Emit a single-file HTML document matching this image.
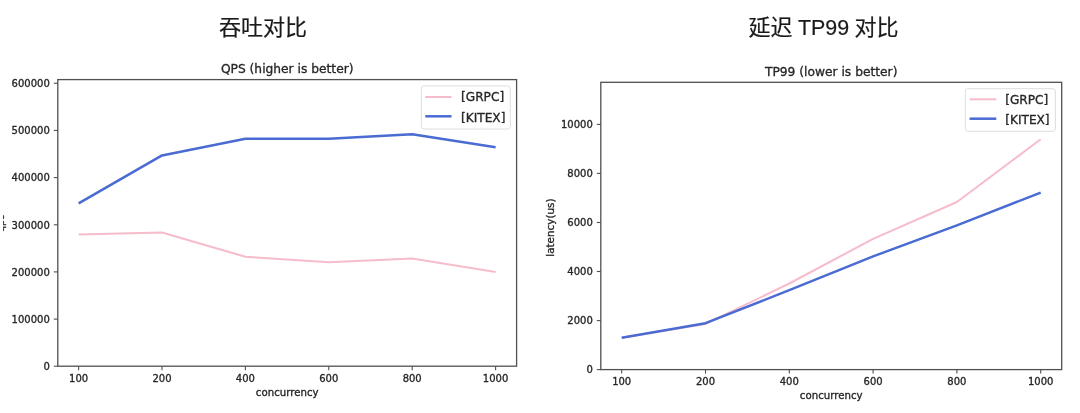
<!DOCTYPE html>
<html lang="zh">
<head>
<meta charset="utf-8">
<title>吞吐对比 / 延迟 TP99 对比</title>
<style>
html,body{margin:0;padding:0;background:#fff;}
body{width:1080px;height:413px;overflow:hidden;position:relative;}
svg{display:block;position:absolute;left:0;top:0;filter:blur(0.35px);}
svg text{font-family:"DejaVu Sans","Liberation Sans",sans-serif;fill:#262626;stroke:#262626;stroke-width:0.32px;}
.h{position:absolute;top:13px;margin:0;font:400 22px/30px "Liberation Sans","Noto Sans CJK SC",sans-serif;color:#1a1a1a;white-space:nowrap;transform:translateX(-50%);word-spacing:-0.8px;-webkit-text-stroke:0.2px #1a1a1a;}
.h span{font-size:21.4px;}
</style>
</head>
<body>
<h2 class="h" style="left:263px">吞吐对比</h2>
<h2 class="h" style="left:823.5px">延迟 <span>TP99</span> 对比</h2>
<svg width="1080" height="413" viewBox="0 0 1080 413">
<polyline points="78.6,234.6 162.0,232.5 245.4,256.8 328.8,262.2 412.2,258.4 495.6,272.0" fill="none" stroke="#f7bccb" stroke-width="2.0" stroke-linejoin="round" stroke-linecap="butt"/>
<polyline points="78.6,203.4 162.0,155.4 245.4,138.7 328.8,138.7 412.2,134.2 495.6,147.2" fill="none" stroke="#4a6bd2" stroke-width="2.5" stroke-linejoin="round" stroke-linecap="butt"/>
<rect x="57.8" y="79.6" width="458.8" height="286.6" fill="none" stroke="#505050" stroke-width="1.3"/>
<line x1="53.8" y1="366.2" x2="57.8" y2="366.2" stroke="#505050" stroke-width="1.1"/>
<text x="49.8" y="369.9" text-anchor="end" font-size="10">0</text>
<line x1="53.8" y1="319.1" x2="57.8" y2="319.1" stroke="#505050" stroke-width="1.1"/>
<text x="49.8" y="322.8" text-anchor="end" font-size="10">100000</text>
<line x1="53.8" y1="271.9" x2="57.8" y2="271.9" stroke="#505050" stroke-width="1.1"/>
<text x="49.8" y="275.6" text-anchor="end" font-size="10">200000</text>
<line x1="53.8" y1="224.8" x2="57.8" y2="224.8" stroke="#505050" stroke-width="1.1"/>
<text x="49.8" y="228.5" text-anchor="end" font-size="10">300000</text>
<line x1="53.8" y1="177.6" x2="57.8" y2="177.6" stroke="#505050" stroke-width="1.1"/>
<text x="49.8" y="181.3" text-anchor="end" font-size="10">400000</text>
<line x1="53.8" y1="130.4" x2="57.8" y2="130.4" stroke="#505050" stroke-width="1.1"/>
<text x="49.8" y="134.1" text-anchor="end" font-size="10">500000</text>
<line x1="53.8" y1="83.3" x2="57.8" y2="83.3" stroke="#505050" stroke-width="1.1"/>
<text x="49.8" y="87.0" text-anchor="end" font-size="10">600000</text>
<line x1="78.6" y1="366.2" x2="78.6" y2="370.2" stroke="#505050" stroke-width="1.1"/>
<text x="78.6" y="381.5" text-anchor="middle" font-size="10">100</text>
<line x1="162.0" y1="366.2" x2="162.0" y2="370.2" stroke="#505050" stroke-width="1.1"/>
<text x="162.0" y="381.5" text-anchor="middle" font-size="10">200</text>
<line x1="245.4" y1="366.2" x2="245.4" y2="370.2" stroke="#505050" stroke-width="1.1"/>
<text x="245.4" y="381.5" text-anchor="middle" font-size="10">400</text>
<line x1="328.8" y1="366.2" x2="328.8" y2="370.2" stroke="#505050" stroke-width="1.1"/>
<text x="328.8" y="381.5" text-anchor="middle" font-size="10">600</text>
<line x1="412.2" y1="366.2" x2="412.2" y2="370.2" stroke="#505050" stroke-width="1.1"/>
<text x="412.2" y="381.5" text-anchor="middle" font-size="10">800</text>
<line x1="495.6" y1="366.2" x2="495.6" y2="370.2" stroke="#505050" stroke-width="1.1"/>
<text x="495.6" y="381.5" text-anchor="middle" font-size="10">1000</text>
<text x="287.2" y="395.9" text-anchor="middle" font-size="10.2">concurrency</text>
<text x="287.2" y="73.1" text-anchor="middle" font-size="12.25">QPS (higher is better)</text>
<text transform="translate(4.2,223.3) rotate(-90)" text-anchor="middle" font-size="10">qps</text>
<rect x="421.4" y="85.9" width="88.9" height="43.1" rx="2.5" fill="#fff" fill-opacity="0.8" stroke="#dedede" stroke-width="1"/>
<line x1="425.3" y1="97.0" x2="451.5" y2="97.0" stroke="#f7bccb" stroke-width="2.0"/>
<line x1="425.3" y1="116.3" x2="451.5" y2="116.3" stroke="#4a6bd2" stroke-width="2.5"/>
<text x="461.0" y="101.4" font-size="12.15">[GRPC]</text>
<text x="461.0" y="121.5" font-size="12.15">[KITEX]</text>
<rect x="0" y="200" width="3" height="50" fill="#fff"/>
<polyline points="621.7,337.7 705.5,324.0 789.3,283.5 873.1,238.8 956.9,202.0 1040.7,139.2" fill="none" stroke="#f7bccb" stroke-width="2.0" stroke-linejoin="round" stroke-linecap="butt"/>
<polyline points="621.7,337.7 705.5,323.2 789.3,290.2 873.1,256.3 956.9,225.3 1040.7,192.6" fill="none" stroke="#4a6bd2" stroke-width="2.5" stroke-linejoin="round" stroke-linecap="butt"/>
<rect x="600.8" y="82.3" width="460.9" height="287.3" fill="none" stroke="#505050" stroke-width="1.3"/>
<line x1="596.8" y1="369.6" x2="600.8" y2="369.6" stroke="#505050" stroke-width="1.1"/>
<text x="592.8" y="373.3" text-anchor="end" font-size="10">0</text>
<line x1="596.8" y1="320.6" x2="600.8" y2="320.6" stroke="#505050" stroke-width="1.1"/>
<text x="592.8" y="324.3" text-anchor="end" font-size="10">2000</text>
<line x1="596.8" y1="271.5" x2="600.8" y2="271.5" stroke="#505050" stroke-width="1.1"/>
<text x="592.8" y="275.2" text-anchor="end" font-size="10">4000</text>
<line x1="596.8" y1="222.5" x2="600.8" y2="222.5" stroke="#505050" stroke-width="1.1"/>
<text x="592.8" y="226.2" text-anchor="end" font-size="10">6000</text>
<line x1="596.8" y1="173.4" x2="600.8" y2="173.4" stroke="#505050" stroke-width="1.1"/>
<text x="592.8" y="177.1" text-anchor="end" font-size="10">8000</text>
<line x1="596.8" y1="124.4" x2="600.8" y2="124.4" stroke="#505050" stroke-width="1.1"/>
<text x="592.8" y="128.1" text-anchor="end" font-size="10">10000</text>
<line x1="621.7" y1="369.6" x2="621.7" y2="373.6" stroke="#505050" stroke-width="1.1"/>
<text x="621.7" y="384.9" text-anchor="middle" font-size="10">100</text>
<line x1="705.5" y1="369.6" x2="705.5" y2="373.6" stroke="#505050" stroke-width="1.1"/>
<text x="705.5" y="384.9" text-anchor="middle" font-size="10">200</text>
<line x1="789.3" y1="369.6" x2="789.3" y2="373.6" stroke="#505050" stroke-width="1.1"/>
<text x="789.3" y="384.9" text-anchor="middle" font-size="10">400</text>
<line x1="873.1" y1="369.6" x2="873.1" y2="373.6" stroke="#505050" stroke-width="1.1"/>
<text x="873.1" y="384.9" text-anchor="middle" font-size="10">600</text>
<line x1="956.9" y1="369.6" x2="956.9" y2="373.6" stroke="#505050" stroke-width="1.1"/>
<text x="956.9" y="384.9" text-anchor="middle" font-size="10">800</text>
<line x1="1040.7" y1="369.6" x2="1040.7" y2="373.6" stroke="#505050" stroke-width="1.1"/>
<text x="1040.7" y="384.9" text-anchor="middle" font-size="10">1000</text>
<text x="831.2" y="399.3" text-anchor="middle" font-size="10.2">concurrency</text>
<text x="831.2" y="75.8" text-anchor="middle" font-size="12.25">TP99 (lower is better)</text>
<text transform="translate(554.3,227.6) rotate(-90)" text-anchor="middle" font-size="10.4">latency(us)</text>
<rect x="965.3" y="88.7" width="90.1" height="42.6" rx="2.5" fill="#fff" fill-opacity="0.8" stroke="#dedede" stroke-width="1"/>
<line x1="969.6" y1="99.3" x2="996.3" y2="99.3" stroke="#f7bccb" stroke-width="2.0"/>
<line x1="969.6" y1="118.7" x2="996.3" y2="118.7" stroke="#4a6bd2" stroke-width="2.5"/>
<text x="1005.2" y="103.7" font-size="12.15">[GRPC]</text>
<text x="1005.2" y="123.9" font-size="12.15">[KITEX]</text>
</svg>
</body>
</html>
